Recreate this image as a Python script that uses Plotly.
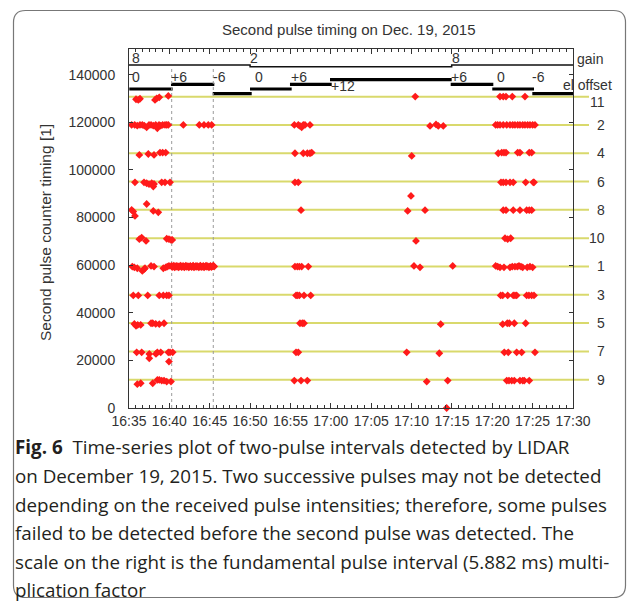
import pandas as pd
import plotly.graph_objects as go

# ---------------- data (times = minutes after 16:35, values = counter) ----------------
level_labels = ["11", "2", "4", "6", "8", "10", "1", "3", "5", "7", "9"]
level_values = [130790, 118900, 107010, 95120, 83230, 71340, 59450, 47560, 35670, 23780, 11890]

l11_t = [0.87, 1.15, 1.36, 3.22, 3.43, 3.75, 4.87, 35.46, 45.96, 46.36, 46.70, 47.48, 49.05]
l11_v = [129700, 129400, 129900, 129400, 130100, 130500, 131100, 130800, 130800, 130800, 130800, 130800, 130800]

l2_t = [0.33, 0.71, 1.03, 1.36, 1.65, 1.90, 2.19, 2.48, 2.73, 3.01, 3.31, 3.51, 3.72, 3.93, 4.17, 4.46, 4.67, 4.87,
        6.73, 8.71, 9.29, 9.82, 10.24,
        20.48, 20.97, 21.18, 21.39, 21.59, 21.80, 22.42,
        37.29, 38.03, 38.31, 38.93,
        45.42, 45.67, 45.96, 46.36, 46.79, 47.20, 47.53, 47.81, 48.15, 48.43, 48.77, 49.05, 49.38, 49.67, 50.00, 50.29]
l2_v = [118900, 118900, 118600, 118900, 118900, 118600, 117900, 118900, 118900, 118600, 118900, 117500, 118900, 118600, 118900, 118900, 118900, 118900,
        118900, 118900, 118900, 118900, 118900,
        118900, 118900, 118500, 117900, 118900, 118900, 118900,
        118500, 119100, 118500, 118500,
        118900, 118900, 118900, 118900, 118900, 118900, 118900, 118900, 118900, 118900, 118900, 118900, 118900, 118900, 118900, 118900]

l4_t = [1.28, 2.39, 3.10, 3.84, 4.17, 4.55, 20.56, 21.59, 22.09, 22.42, 22.63, 35.02,
        45.74, 46.17, 46.45, 46.70, 48.15, 48.43, 49.58, 49.88]
l4_v = [106300, 106700, 106300, 107300, 107300, 107300, 107000, 107000, 107000, 107000, 107300, 105900,
        107000, 107300, 107300, 107300, 107300, 107300, 107300, 107300]

l6_t = [0.74, 1.86, 2.19, 2.48, 2.81, 3.01, 3.10, 4.05, 4.46, 5.08, 20.56, 20.97,
        46.08, 46.36, 46.70, 47.20, 47.60, 49.14, 50.08, 50.17]
l6_v = [94800, 94800, 94400, 94000, 94400, 93000, 94100, 94800, 94800, 94800, 94800, 94800,
        94800, 94800, 94800, 94800, 94800, 94800, 94800, 94800]

l8_t = [0.33, 0.53, 0.74, 2.19, 3.01, 3.63, 21.31, 34.52, 34.93, 36.67,
        46.36, 46.70, 47.60, 48.43, 49.26, 49.58, 49.88]
l8_v = [83200, 82500, 80700, 85700, 82800, 82200, 83100, 82800, 89100, 83100,
        83100, 83100, 83100, 83100, 83100, 83100, 83100]

l10_t = [1.28, 1.57, 2.11, 4.67, 4.95, 5.20, 5.36, 35.55, 46.58, 46.91, 47.28]
l10_v = [70900, 71600, 70200, 71100, 70900, 70600, 70600, 70200, 71300, 70900, 71300]

l1_t = [0.41, 0.66, 1.03, 1.65, 1.86, 1.98, 2.73, 3.10, 4.25, 4.55, 4.74, 4.95,
        20.56, 20.85, 21.10, 21.39, 22.21,
        35.30, 36.05, 40.10,
        45.42, 45.67, 45.96, 46.45, 47.20, 47.48, 47.81, 48.10, 48.31, 48.56, 48.77, 49.33, 49.67, 50.00]
l1_v = [59400, 59100, 58700, 57600, 58300, 58700, 59700, 59400, 58700, 59100, 59400, 59700,
        59400, 59400, 59400, 59400, 59400,
        59700, 59100, 59700,
        59700, 59400, 59100, 59100, 59100, 59400, 59400, 59400, 59700, 59400, 59100, 59100, 59400, 59100]

band_t = [5.25, 5.35, 5.45, 5.55, 5.65, 5.75, 5.85, 5.95, 6.05, 6.15,
          6.25, 6.40, 6.50, 6.60, 6.70, 6.85, 6.95, 7.05, 7.15, 7.30,
          7.40, 7.50, 7.60, 7.75, 7.85, 7.95, 8.05, 8.20, 8.30, 8.40,
          8.50, 8.65, 8.75, 8.85, 8.95, 9.10, 9.20, 9.30, 9.45, 9.55,
          9.65, 9.75, 9.90, 10.00, 10.10, 10.20, 10.35, 10.45, 10.55]
band_v = [59700, 59200, 59500, 59800, 59100, 59400, 59700, 59300, 59600, 59100,
          59500, 59800, 59200, 59400, 59700, 59100, 59500, 59800, 59300, 59600,
          59100, 59400, 59700, 59200, 59500, 59800, 59100, 59400, 59700, 59300,
          59600, 59100, 59500, 59800, 59200, 59400, 59700, 59100, 59500, 59800,
          59300, 59600, 59100, 59400, 59700, 59200, 59500, 59800, 59400]

l3_t = [0.53, 1.15, 2.32, 3.75, 4.25, 4.67, 4.95, 20.69, 20.85, 21.10, 21.68, 22.51,
        46.04, 46.29, 46.91, 47.60, 47.81, 48.02, 49.26, 49.54, 49.88, 50.17]
l3_v = [47300, 47300, 47300, 47300, 47300, 47300, 47300, 47300, 47300, 47300, 47300, 47300,
        47300, 47300, 47300, 47300, 47300, 47300, 47300, 47300, 47300, 47300]

l5_t = [0.66, 0.87, 1.08, 1.45, 2.73, 2.94, 3.31, 3.75, 4.34, 21.18, 21.47, 21.68, 38.61,
        46.29, 46.86, 47.11, 47.73, 49.14]
l5_v = [35300, 34500, 34900, 34900, 35600, 35600, 35300, 35200, 35600, 35600, 35600, 35600, 35200,
        35200, 35600, 35600, 35600, 35600]

l7_t = [0.95, 1.57, 2.51, 2.51, 3.34, 3.51, 3.93, 4.87, 4.95, 5.08, 5.41, 20.69, 20.97, 34.40, 38.44,
        46.49, 46.98, 48.02, 48.64, 50.29]
l7_v = [23400, 23400, 22700, 20900, 22700, 23400, 23400, 23400, 19500, 23400, 23400, 23400, 23400, 23400, 23000,
        23400, 23400, 23400, 23400, 23400]

l9_t = [1.03, 1.45, 2.94, 3.51, 3.75, 4.05, 4.34, 4.67, 5.20, 20.48, 21.31, 22.09, 36.88, 39.48, 39.35,
        46.79, 47.07, 47.41, 47.73, 48.43, 48.77, 48.96, 49.58]
l9_v = [10000, 10400, 10400, 11800, 11800, 11500, 11500, 11100, 11100, 11500, 11500, 11500, 11100, 11500, 0,
        11500, 11500, 11500, 11500, 11500, 11500, 11500, 11500]

gain_vals = [8, 2, 8]
gain_start = [0.0, 15.0, 39.97]
gain_end = [15.0, 39.97, 55.0]

offset_vals = [0, 6, -6, 0, 6, 12, 6, 0, -6]
offset_labels = ["0", "+6", "-6", "0", "+6", "+12", "+6", "0", "-6"]
offset_start = [0.04, 5.20, 10.37, 14.99, 19.94, 24.90, 39.85, 45.00, 49.96]
offset_end = [5.41, 10.57, 15.20, 20.15, 25.11, 39.97, 45.13, 50.17, 55.04]
offset_label_t = [0.20, 5.10, 10.25, 15.45, 19.90, 24.95, 39.80, 45.40, 49.80]

marker_times = [5.29, 10.44]   # dotted vertical markers (offset changes)

caption = ["<b>Fig. 6</b>&nbsp;&nbsp;Time-series plot of two-pulse intervals detected by LIDAR",
           "on December 19, 2015. Two successive pulses may not be detected",
           "depending on the received pulse intensities; therefore, some pulses",
           "failed to be detected before the second pulse was detected. The",
           "scale on the right is the fundamental pulse interval (5.882 ms) multi-",
           "plication factor"]

# ---------------- helpers ----------------
W, H = 637, 603
ML, MR, MT, MB = 129, 64, 49, 195
PW, PH = W - ML - MR, H - MT - MB
base = pd.Timestamp("2015-12-19 16:35:00")


def tm(mins):
    return [base + pd.Timedelta(minutes=m) for m in mins]


def px(x):
    return (x - ML) / PW


def py(y):
    return (H - MB - y) / PH


def gain_y(g):
    return 143150 + 120 * g


def offset_y(o):
    return 134000 + 330 * o


FONT = "Liberation Sans, Arial, sans-serif"
TXT = "#333333"

fig = go.Figure()

# gain line (step)
gx, gy = [], []
for g, s, e in zip(gain_vals, gain_start, gain_end):
    gx += tm([s, e])
    gy += [gain_y(g), gain_y(g)]
fig.add_trace(go.Scatter(x=gx, y=gy, mode="lines", line=dict(color="#111111", width=1.5),
                         hoverinfo="skip", showlegend=False))

# offset segments
ox, oy = [], []
for o, s, e in zip(offset_vals, offset_start, offset_end):
    ox += tm([s, e]) + [None]
    oy += [offset_y(o), offset_y(o), None]
fig.add_trace(go.Scatter(x=ox, y=oy, mode="lines", line=dict(color="#000000", width=3.2),
                         connectgaps=False, hoverinfo="skip", showlegend=False))

# dotted vertical markers
for t in marker_times:
    fig.add_trace(go.Scatter(x=tm([t, t]), y=[0, gain_y(8) - 600], mode="lines",
                             line=dict(color="#9a9a9a", width=1, dash="dot"),
                             hoverinfo="skip", showlegend=False))

# data points
all_t = l11_t + l2_t + l4_t + l6_t + l8_t + l10_t + l1_t + band_t + l3_t + l5_t + l7_t + l9_t
all_v = l11_v + l2_v + l4_v + l6_v + l8_v + l10_v + l1_v + band_v + l3_v + l5_v + l7_v + l9_v
assert len(all_t) == len(all_v)
fig.add_trace(go.Scatter(x=tm(all_t), y=all_v, mode="markers",
                         marker=dict(symbol="diamond", size=6, color="#ff1a1a", line=dict(width=0)),
                         cliponaxis=False, showlegend=False))

shapes = []
# reference level lines
for v in level_values:
    shapes.append(dict(type="line", xref="paper", yref="y", x0=0, x1=px(589), y0=v, y1=v,
                       line=dict(color="#d9d96c", width=2), layer="below"))


# rounded border box
def rr(x0, y0, x1, y1, r):
    pts = [("M", (x0 + r, y0)), ("L", (x1 - r, y0)), ("Q", (x1, y0), (x1, y0 + r)),
           ("L", (x1, y1 - r)), ("Q", (x1, y1), (x1 - r, y1)), ("L", (x0 + r, y1)),
           ("Q", (x0, y1), (x0, y1 - r)), ("L", (x0, y0 + r)), ("Q", (x0, y0), (x0 + r, y0))]
    s = ""
    for p in pts:
        s += p[0] + " " + " ".join(f"{px(a):.5f},{py(b):.5f}" for a, b in p[1:]) + " "
    return s + "Z"


shapes.append(dict(type="path", xref="paper", yref="paper", path=rr(13.5, 10.5, 625.5, 597.5, 12),
                   line=dict(color="#777777", width=1.2), layer="above"))

ann = []
# right-hand multiplication factor labels
for lab, v in zip(level_labels, level_values):
    ann.append(dict(x=px(606), y=v, xref="paper", yref="y", text=lab, showarrow=False, borderpad=0,
                    xanchor="right", yanchor="middle", yshift=-5 if lab == "11" else 0,
                    font=dict(family=FONT, size=14, color=TXT)))
# gain labels
for g, s in zip(gain_vals, gain_start):
    ann.append(dict(x=tm([s + 0.3 if s == 0 else s - 0.1])[0], y=147100, xref="x", yref="y", text=str(g),
                    showarrow=False, xanchor="left", yanchor="middle", borderpad=0,
                    font=dict(family=FONT, size=14, color=TXT)))
# offset labels
for lab, t, o in zip(offset_labels, offset_label_t, offset_vals):
    yv = 135300 if o == 12 else 139100
    ann.append(dict(x=tm([t])[0], y=yv, xref="x", yref="y", text=lab, showarrow=False, borderpad=0,
                    xanchor="left", yanchor="middle", font=dict(family=FONT, size=14, color=TXT)))
ann.append(dict(x=px(576), y=py(59), xref="paper", yref="paper", text="gain", showarrow=False, borderpad=0,
                xanchor="left", yanchor="middle", font=dict(family=FONT, size=14, color=TXT)))
ann.append(dict(x=px(562), y=py(85), xref="paper", yref="paper", text="el offset", showarrow=False, borderpad=0,
                xanchor="left", yanchor="middle", font=dict(family=FONT, size=14, color=TXT)))
# title and y title
ann.append(dict(x=px(349), y=py(30), xref="paper", yref="paper", text="Second pulse timing on Dec. 19, 2015",
                showarrow=False, xanchor="center", yanchor="middle", font=dict(family=FONT, size=15, color=TXT)))
ann.append(dict(x=px(45), y=py(233), xref="paper", yref="paper", text="Second pulse counter timing [1]",
                showarrow=False, xanchor="center", yanchor="middle", textangle=-90,
                font=dict(family=FONT, size=15.5, color=TXT)))
# caption
cap_y = [447, 476, 505, 533, 562, 590]
for line, yy in zip(caption, cap_y):
    ann.append(dict(x=px(14), y=py(yy), xref="paper", yref="paper", text=line, showarrow=False, borderpad=0,
                    xanchor="left", yanchor="middle",
                    font=dict(family="Open Sans, sans-serif", size=18.8, color="#231f20")))

fig.update_layout(
    width=W, height=H, margin=dict(l=ML, r=MR, t=MT, b=MB),
    paper_bgcolor="white", plot_bgcolor="white",
    shapes=shapes, annotations=ann, showlegend=False,
    xaxis=dict(type="date", range=[base, base + pd.Timedelta(minutes=55)], tickformat="%H:%M",
               dtick=300000, tick0=base, ticks="inside", ticklen=5, tickcolor="#333",
               showline=True, linecolor="#333", linewidth=1, mirror="ticks", showgrid=False,
               zeroline=False, tickfont=dict(family=FONT, size=14, color=TXT),
               minor=dict(dtick=50000, tick0=base, ticks="inside", ticklen=3, tickcolor="#333", showgrid=False)),
    yaxis=dict(range=[0, 150800], dtick=20000, tick0=0, tickformat="d", ticks="inside", ticklen=4,
               tickcolor="#333", showline=True, linecolor="#333", linewidth=1, mirror="ticks",
               showgrid=False, zeroline=False, ticklabelstandoff=10,
               tickfont=dict(family=FONT, size=14, color=TXT)),
)

fig.write_html("out.html", config={"displayModeBar": False},
               post_script="document.body.style.margin='0';document.body.style.overflow='hidden';")
